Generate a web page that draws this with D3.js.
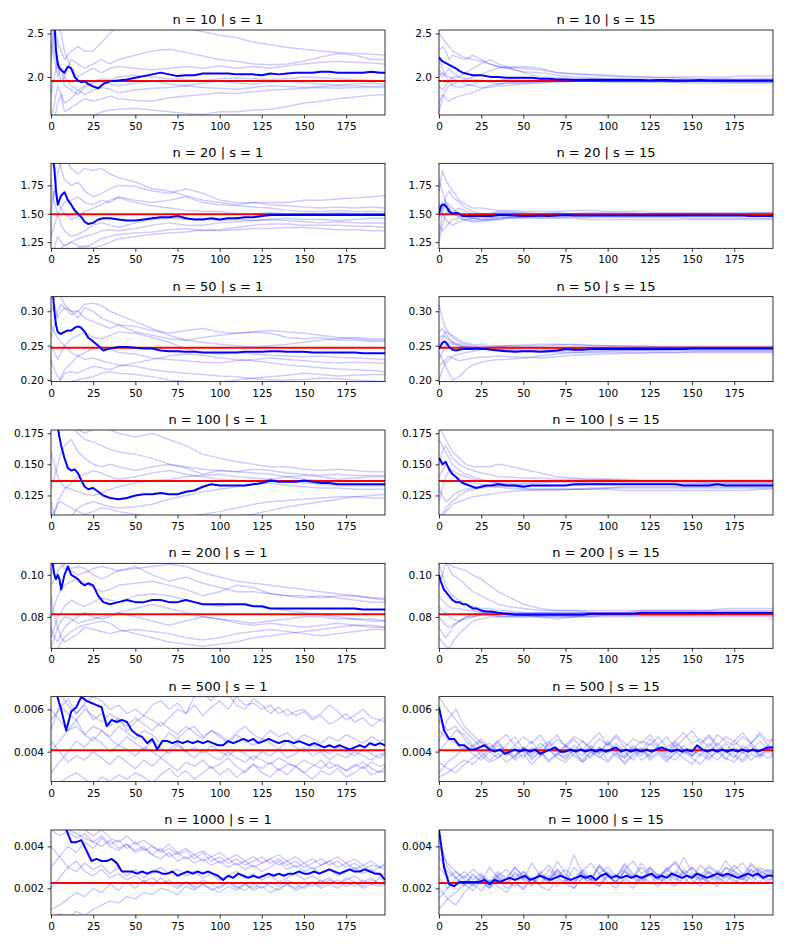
<!DOCTYPE html>
<html>
<head>
<meta charset="utf-8">
<script src="https://cdn.jsdelivr.net/npm/d3@7"></script>
<style>
  body { margin: 0; background: #fff; }
  text { font-family: "DejaVu Sans", sans-serif; }
</style>
</head>
<body>
<script>
// panel grid: rows are n, columns are s
const nValues = [10, 20, 50, 100, 200, 500, 1000];
const sValues = [1, 15];

// values are stored per row in a display unit:
// rows n=10,20 as is, rows n=50..200 in 1e-3, rows n=500,1000 in 1e-4
const trueValues = [1.954, 1.495, 247, 136.6, 81.2, 40.6, 22.5];
const yDomains = [[1.563, 2.540], [1.196, 1.944], [197.7, 321.2], [109.3, 177.6], [65.0, 105.5], [25.8, 66.0], [7.3, 47.8]];
const yTickValues = [[2.0, 2.5], [1.25, 1.5, 1.75], [200, 250, 300], [125, 150, 175], [80, 100], [40, 60], [20, 40]];
const yTickLabels = [["2.0", "2.5"], ["1.25", "1.50", "1.75"], ["0.20", "0.25", "0.30"], ["0.125", "0.150", "0.175"], ["0.08", "0.10"], ["0.004", "0.006"], ["0.002", "0.004"]];
const xDomain = [0, 198];
const xTicks = [0, 25, 50, 75, 100, 125, 150, 175];

const smoothBoldIdx = [0,1,2,3,4,5,6, 8,10,12,14,16,18,20,22, 25,28,31,35,40,45,50,55,60,65,70,75,80,
  85,90,95,100,105,110,115,120,125,130, 135,140,145,150,155,160,165,170,175,180, 185,190,195,198];
const smoothFaintIdx = [0,2,4,6,8,12,16,20,25,30, 35,40,50,60,70,80,90,100,110,120, 130,140,150,160,170,180,190,198];
const noisyBoldIdx = [0,3,6,9,12,15,18,21,24,27, 30,33,36,39,42,45,48,51,54,57, 60,63,66,69,72,75,78,81,84,87,
  90,93,96,99,102,105,108,111,114,117, 120,123,126,129,132,135,138,141,144,147,
  150,153,156,159,162,165,168,171,174,177, 180,183,186,189,192,195,198];
const noisyFaintIdx = [0,5,10,15,20,25,30,35,40,45, 50,55,60,65,70,75,80,85,90,95,
  100,105,110,115,120,125,130,135,140,145, 150,155,160,165,170,175,180,185,190,195, 198];

// ---- n = 10 ----
const boldN10S1 = [2.9,2.8,2.6,2.3,2.15,2.1,2.08, 2.05,2.12,2.1,2.0,1.96,1.94,1.95,1.92,
  1.89,1.87,1.92,1.95,1.96,1.97,1.99,2.01,2.03,2.05,2.03,2.01,2.02,
  2.02,2.04,2.04,2.04,2.04,2.03,2.03,2.03,2.02,2.04, 2.03,2.04,2.05,2.05,2.05,2.06,2.06,2.05,2.05,2.05, 2.05,2.06,2.05,2.05];
const faintN10S1 = [
  [2.2,2.6,2.4,2.3,2.2,2.3,2.35,2.3,2.3,2.4, 2.5,2.6,2.7,2.65,2.6,2.56,2.52,2.48,2.45,2.4, 2.37,2.34,2.32,2.3,2.28,2.27,2.26,2.25],
  [1.8,2.0,2.2,2.1,2.0,2.2,2.15,2.1,2.15,2.2, 2.15,2.2,2.25,2.3,2.32,2.28,2.24,2.2,2.18,2.15, 2.14,2.15,2.18,2.23,2.27,2.25,2.2,2.2],
  [3.0,2.8,2.6,2.5,2.3,2.1,2.0,2.05,2.1,2.05, 2.1,2.12,2.1,2.08,2.1,2.12,2.1,2.13,2.1,2.12, 2.1,2.13,2.15,2.17,2.18,2.17,2.16,2.15],
  [1.5,1.7,1.9,1.8,1.7,1.75,1.85,1.9,1.95,1.98, 1.97,2.0,2.02,2.0,1.98,1.97,1.96,1.98,1.99,1.98, 1.97,1.98,2.0,1.99,1.98,1.97,1.96,1.95],
  [2.4,2.2,2.0,2.1,1.9,1.85,1.8,1.88,1.93,1.95, 1.92,1.9,1.93,1.95,1.92,1.9,1.93,1.95,1.93,1.92, 1.94,1.95,1.93,1.92,1.91,1.92,1.93,1.92],
  [1.4,1.5,1.7,1.8,1.6,1.65,1.7,1.75,1.72,1.75, 1.78,1.75,1.73,1.72,1.76,1.78,1.8,1.82,1.81,1.83, 1.85,1.86,1.87,1.88,1.87,1.88,1.88,1.88],
  [1.3,1.4,1.5,1.45,1.5,1.55,1.52,1.5,1.55,1.6, 1.62,1.63,1.64,1.62,1.6,1.58,1.57,1.6,1.6,1.62, 1.63,1.66,1.7,1.72,1.75,1.77,1.79,1.8],
  [2.6,2.3,2.1,1.95,2.0,1.9,1.85,1.8,1.85,1.88, 1.86,1.82,1.85,1.87,1.88,1.9,1.88,1.87,1.86,1.88, 1.9,1.89,1.88,1.89,1.9,1.9,1.89,1.9]
];
const boldN10S15 = [2.23,2.2,2.18,2.17,2.16,2.15,2.14, 2.12,2.1,2.07,2.05,2.04,2.03,2.02,2.02,
  2.02,2.01,2.0,2.0,1.99,1.99,1.99,1.99,1.98,1.98,1.97,1.97,1.965,
  1.965,1.965,1.965,1.965,1.965,1.965,1.965,1.965,1.96,1.965, 1.965,1.96,1.96,1.96,1.965,1.96,1.96,1.96,1.96,1.96, 1.96,1.96,1.96,1.96];
const faintN10S15 = [
  [2.5,2.45,2.4,2.35,2.3,2.25,2.22,2.2,2.18,2.15, 2.12,2.1,2.06,2.05,2.02,2.0,1.99,1.98,1.98,1.97, 1.97,1.97,1.97,1.96,1.96,1.96,1.96,1.96],
  [2.3,2.35,2.3,2.2,2.25,2.22,2.2,2.25,2.2,2.15, 2.12,2.1,2.12,2.1,2.05,2.03,2.02,2.01,2.0,2.0, 1.99,1.99,1.98,1.98,1.98,1.98,1.98,1.98],
  [1.6,1.75,1.85,1.9,1.92,1.95,1.98,2.0,2.03,2.07, 2.1,2.12,2.1,2.08,2.05,2.04,2.03,2.02,2.01,2.0, 2.0,2.0,2.0,2.0,2.0,2.01,2.01,2.01],
  [1.7,1.8,1.75,1.72,1.75,1.78,1.8,1.82,1.86,1.9, 1.92,1.93,1.94,1.95,1.95,1.96,1.96,1.95,1.95,1.95, 1.95,1.94,1.95,1.95,1.94,1.94,1.94,1.94],
  [2.0,2.05,2.02,2.0,1.98,1.95,1.92,1.9,1.88,1.88, 1.9,1.9,1.92,1.93,1.94,1.95,1.96,1.96,1.96,1.95, 1.95,1.95,1.95,1.95,1.95,1.95,1.95,1.95],
  [2.2,2.1,2.0,1.95,1.9,1.88,1.9,1.92,1.95,1.94, 1.92,1.93,1.93,1.94,1.95,1.95,1.95,1.94,1.94,1.94, 1.94,1.94,1.93,1.93,1.93,1.93,1.93,1.93],
  [1.9,1.85,1.9,1.95,2.0,2.0,2.05,2.1,2.15,2.2, 2.15,2.12,2.05,2.0,1.99,1.98,1.98,1.97,1.97,1.97, 1.97,1.96,1.96,1.96,1.96,1.96,1.97,1.97],
  [2.1,2.0,2.05,2.1,2.05,2.0,1.98,1.97,1.96,1.95, 1.96,1.97,1.98,1.98,1.97,1.97,1.98,1.98,1.97,1.97, 1.96,1.96,1.96,1.97,1.97,1.96,1.96,1.96]
];

// ---- n = 20 ----
const boldN20S1 = [2.2,2.0,1.9,1.7,1.58,1.62,1.66, 1.69,1.62,1.58,1.53,1.5,1.47,1.43,1.41,
  1.42,1.45,1.46,1.46,1.45,1.44,1.44,1.45,1.46,1.47,1.47,1.48,1.46,
  1.45,1.45,1.46,1.45,1.46,1.46,1.47,1.47,1.48,1.49, 1.49,1.49,1.49,1.49,1.49,1.49,1.49,1.49,1.49,1.49, 1.49,1.49,1.49,1.49];
const faintN20S1 = [
  [1.5,1.7,1.85,1.95,2.0,1.9,1.85,1.9,1.88,1.9, 1.85,1.82,1.78,1.72,1.7,1.66,1.62,1.6,1.58,1.6, 1.6,1.6,1.62,1.62,1.63,1.64,1.65,1.66],
  [2.2,2.1,2.0,1.9,1.8,1.75,1.78,1.7,1.65,1.68, 1.72,1.75,1.74,1.7,1.68,1.72,1.68,1.62,1.6,1.6, 1.58,1.57,1.56,1.55,1.56,1.55,1.56,1.55],
  [1.3,1.4,1.5,1.55,1.6,1.62,1.65,1.6,1.58,1.62, 1.6,1.65,1.62,1.6,1.62,1.65,1.6,1.58,1.57,1.56, 1.55,1.53,1.52,1.52,1.53,1.52,1.52,1.52],
  [1.8,1.6,1.5,1.4,1.35,1.3,1.32,1.35,1.4,1.42, 1.4,1.38,1.42,1.45,1.46,1.45,1.46,1.44,1.45,1.44, 1.45,1.46,1.45,1.45,1.44,1.45,1.46,1.46],
  [1.0,1.2,1.3,1.25,1.22,1.25,1.28,1.3,1.32,1.35, 1.36,1.35,1.37,1.4,1.42,1.4,1.4,1.42,1.43,1.44, 1.45,1.44,1.43,1.42,1.43,1.42,1.42,1.42],
  [1.2,1.1,1.15,1.2,1.22,1.25,1.22,1.2,1.24,1.28, 1.3,1.32,1.33,1.34,1.36,1.37,1.35,1.36,1.38,1.4, 1.41,1.41,1.4,1.4,1.4,1.39,1.39,1.38],
  [1.1,1.0,1.05,1.1,1.15,1.18,1.2,1.22,1.2,1.22, 1.25,1.28,1.3,1.32,1.33,1.34,1.36,1.35,1.36,1.37, 1.37,1.38,1.38,1.37,1.36,1.36,1.35,1.35],
  [1.6,1.7,1.6,1.55,1.5,1.45,1.48,1.52,1.55,1.58, 1.62,1.64,1.6,1.57,1.55,1.53,1.52,1.52,1.5,1.5, 1.51,1.5,1.5,1.5,1.51,1.5,1.5,1.5]
];
const boldN20S15 = [1.5,1.56,1.58,1.58,1.57,1.55,1.52, 1.5,1.51,1.5,1.48,1.48,1.48,1.48,1.48,
  1.48,1.48,1.48,1.49,1.49,1.485,1.48,1.48,1.485,1.48,1.485,1.49,1.485,
  1.485,1.485,1.485,1.485,1.485,1.485,1.485,1.485,1.485,1.485, 1.485,1.485,1.485,1.485,1.485,1.485,1.485,1.485,1.485,1.485, 1.48,1.48,1.48,1.48];
const faintN20S15 = [
  [1.7,1.88,1.8,1.75,1.7,1.62,1.58,1.55,1.55,1.54, 1.53,1.53,1.52,1.52,1.52,1.53,1.53,1.52,1.52,1.52, 1.51,1.51,1.51,1.51,1.51,1.51,1.51,1.51],
  [1.3,1.5,1.65,1.7,1.65,1.6,1.55,1.52,1.5,1.5, 1.51,1.51,1.5,1.5,1.5,1.5,1.5,1.5,1.5,1.49, 1.49,1.49,1.49,1.49,1.49,1.49,1.49,1.49],
  [1.6,1.5,1.45,1.42,1.4,1.43,1.45,1.46,1.47,1.47, 1.48,1.48,1.48,1.48,1.48,1.48,1.48,1.48,1.48,1.48, 1.48,1.48,1.48,1.48,1.48,1.48,1.48,1.48],
  [1.4,1.35,1.38,1.42,1.45,1.46,1.44,1.43,1.43,1.44, 1.45,1.46,1.47,1.47,1.47,1.47,1.47,1.47,1.47,1.47, 1.47,1.47,1.46,1.46,1.46,1.46,1.46,1.46],
  [1.25,1.4,1.5,1.55,1.5,1.47,1.45,1.44,1.44,1.45, 1.45,1.46,1.46,1.46,1.46,1.46,1.45,1.45,1.45,1.45, 1.45,1.45,1.45,1.45,1.45,1.45,1.45,1.45],
  [1.55,1.6,1.55,1.5,1.52,1.55,1.52,1.5,1.5,1.5, 1.52,1.52,1.51,1.5,1.51,1.5,1.5,1.5,1.5,1.5, 1.5,1.5,1.5,1.5,1.5,1.5,1.5,1.5],
  [1.8,1.7,1.6,1.55,1.5,1.48,1.47,1.46,1.45,1.46, 1.47,1.47,1.47,1.48,1.49,1.49,1.49,1.49,1.5,1.5, 1.5,1.5,1.5,1.5,1.5,1.5,1.51,1.51],
  [1.45,1.55,1.6,1.58,1.55,1.5,1.48,1.46,1.45,1.45, 1.46,1.47,1.48,1.49,1.5,1.5,1.51,1.51,1.51,1.5, 1.5,1.5,1.5,1.5,1.49,1.49,1.49,1.49]
];

// ---- n = 50 (x1e-3) ----
const boldN50S1 = [340,330,300,280,270,268,267, 270,272,272,276,278,276,270,262,
  256,250,243,246,248,248,247,246,246,243,242,242,241,
  241,240,240,240,240,240,241,241,241,242, 242,241,241,241,240,240,240,240,240,240, 239,239,239,239];
const faintN50S1 = [
  [320,330,340,320,310,300,290,305,300,290, 285,280,278,272,268,272,275,270,268,270, 272,270,268,265,262,260,258,258],
  [300,310,290,300,305,300,300,290,285,280, 275,280,270,265,260,258,262,265,268,270, 268,262,260,262,258,258,256,256],
  [260,280,300,310,305,295,300,310,312,308, 300,295,285,275,265,258,255,252,250,248, 250,252,255,258,260,262,260,260],
  [250,240,230,240,250,260,265,270,262,260, 265,270,268,262,255,245,240,238,240,238, 236,235,234,235,233,232,231,230],
  [200,190,195,205,215,225,235,240,245,248, 245,240,238,232,230,228,226,225,228,230, 232,230,228,226,225,226,225,224],
  [230,215,205,200,210,212,210,215,220,218, 215,220,225,230,235,238,236,232,230,228, 225,222,220,218,216,215,214,212],
  [180,190,185,192,195,198,200,203,205,210, 212,210,208,205,200,198,195,197,200,203, 205,207,210,208,206,207,208,208],
  [280,270,260,255,250,240,235,230,232,228, 225,222,220,215,212,210,208,206,205,202, 200,200,201,203,202,200,199,198]
];
const boldN50S15 = [245,250,254,256,255,252,248, 244,243,244,245,245,245,245,246,
  245,245,244,243,242,241,242,242,241,242,243,245,244,
  244,245,245,245,245,245,245,245,245,245, 245,245,245,246,246,246,246,246,246,246, 246,246,246,246];
const faintN50S15 = [
  [310,290,275,268,265,258,254,252,251,250, 250,250,249,250,251,252,251,250,250,249, 249,249,249,249,249,249,249,249],
  [200,215,225,230,235,238,240,242,244,246, 248,248,247,246,245,246,247,247,247,247, 247,247,246,246,246,246,246,246],
  [270,275,268,260,255,250,248,246,245,244, 244,245,245,244,244,245,245,246,246,246, 246,246,246,246,247,247,247,247],
  [240,230,220,210,200,205,215,222,226,228, 230,230,232,235,238,240,241,242,243,243, 243,244,244,244,244,244,244,244],
  [260,265,262,258,255,252,250,248,246,245, 244,244,243,242,242,243,243,243,243,243, 243,243,243,243,243,243,243,243],
  [230,240,250,255,252,250,248,247,246,245, 244,243,242,241,240,240,240,240,240,240, 240,240,240,240,240,240,240,240],
  [250,260,270,268,262,255,252,250,248,248, 249,250,251,252,252,251,250,250,249,249, 248,248,248,248,248,248,248,248],
  [220,225,230,235,232,228,230,232,233,234, 235,234,233,232,234,236,237,238,239,239, 240,240,241,241,241,241,241,241]
];

// ---- n = 100 (x1e-3) ----
const boldN100S1 = [230,210,195,185,180,172,165, 155,147,145,146,143,137,132,130,
  131,128,125,123,122,123,125,126,126,127,126,126,128,
  129,132,134,133,133,133,133,134,135,137, 136,136,136,137,136,135,135,134,134,134, 134,134,134,134];
const faintN100S1 = [
  [200,190,185,180,178,180,178,175,178,180, 178,175,172,175,170,165,158,155,152,150, 148,148,146,145,146,145,144,144],
  [250,220,200,190,185,180,175,170,168,165, 162,160,158,155,150,148,146,145,144,143, 142,140,141,140,138,139,140,140],
  [130,140,150,160,165,170,160,155,150,148, 150,148,145,148,150,147,142,145,144,146, 145,143,142,141,142,141,141,141],
  [100,110,120,125,130,135,140,142,145,143, 140,138,140,143,145,142,140,138,137,136, 138,140,138,137,136,136,137,137],
  [120,110,105,100,102,108,115,118,120,118, 116,115,116,118,122,125,128,130,132,134, 135,133,132,131,131,130,130,130],
  [110,112,118,120,118,115,112,110,112,115, 114,112,110,108,106,107,110,112,115,118, 120,121,122,123,124,124,123,123],
  [90,95,100,102,100,98,100,102,103,104, 103,102,100,98,96,98,102,106,108,110, 113,116,118,120,122,124,125,126],
  [160,150,140,135,132,130,128,126,125,127, 130,132,135,137,138,140,141,142,140,139, 138,136,135,134,133,133,133,133]
];
const boldN100S15 = [155,153,150,151,152,149,146, 142,140,137,135,134,133,132,131,
  132,133,133,134,133,133,132,133,133,133,133,133,134,
  134,134,134,134,134,134,134,134,134,134, 134,134,133,133,133,133,134,133,133,133, 133,133,133,133];
const faintN100S15 = [
  [180,175,170,165,160,155,150,148,148,148, 150,149,146,143,140,139,138,138,138,137, 137,137,137,137,137,137,137,137],
  [150,160,165,160,155,150,147,145,143,142, 140,140,139,139,138,138,138,138,137,137, 137,137,137,137,137,137,137,137],
  [120,130,140,145,142,138,136,135,134,133, 132,133,134,135,136,136,136,136,136,136, 136,136,136,135,135,135,135,135],
  [105,110,115,118,120,125,128,130,131,132, 132,131,130,129,129,130,130,131,131,131, 131,131,131,131,131,131,131,131],
  [140,145,150,148,145,142,140,138,137,136, 135,134,133,133,133,133,134,134,134,134, 134,134,134,134,134,134,134,134],
  [130,125,120,122,125,128,130,131,132,133, 134,135,135,136,136,136,135,135,135,135, 135,135,135,135,135,135,135,135],
  [170,165,160,155,150,145,142,140,138,136, 135,133,131,130,130,130,131,131,132,132, 132,132,132,132,132,132,132,132],
  [110,108,112,115,118,120,122,124,125,126, 127,128,129,130,130,130,130,130,129,129, 129,129,129,129,129,129,130,130]
];

// ---- n = 200 (x1e-3) ----
const boldN200S1 = [110,105,100,98,100,98,93, 100,104,100,99,98,96,95,96,
  95,90,87,86,87,88,87,87,88,88,87,87,88,
  87,86,86,86,86,86,86,85,85,84, 84,84,84,84,84,84,84,84,84,84, 83.5,83.5,83.5,83.5];
const faintN200S1 = [
  [100,105,108,106,103,102,100,101,103,104, 103,102,103,104,105,104,101,99,97,96, 95,94,93,92,91,90,89,88],
  [95,98,102,104,105,103,104,103,100,98, 100,102,104,100,97,99,96,94,92,92, 91,90,90,89,90,90,89,89],
  [80,85,90,93,95,97,98,96,94,92, 93,95,96,97,95,93,90,92,95,94, 91,90,89,90,89,88,87,87],
  [70,75,80,82,85,88,86,85,87,89, 88,87,90,91,90,88,86,85,86,85, 84,83,82,81,80,79,79,78],
  [75,70,68,72,75,78,80,82,80,79, 80,82,84,86,84,82,80,79,78,77, 78,79,80,80,79,79,78,78],
  [65,70,75,78,80,79,77,78,79,80, 81,82,80,78,76,78,80,79,77,76, 77,76,75,76,77,76,75,75],
  [90,80,75,70,68,70,72,75,74,73, 72,73,74,73,72,70,69,70,72,73, 74,73,72,71,72,73,74,74],
  [60,62,65,68,70,73,75,76,77,78, 77,74,72,70,68,67,66,67,68,70, 71,72,73,74,75,76,76,75]
];
const boldN200S15 = [100,97,95,93,92,91,90, 88,87,87,86,86,85,84,84,
  83,82.5,82.5,82,81.5,81,81,81,81,81,81,81,81,
  81,81.5,81.5,81.5,81.5,81.5,81.5,82,82,82, 82,82,82,82,82,82,82,82,82,82, 82,82,82,82];
const faintN200S15 = [
  [110,108,106,105,104,103,102,100,98,95, 92,90,86,84,83,83,83,83,83,83, 83,83,83,83,84,84,84,84],
  [95,100,106,103,100,98,95,92,90,88, 86,85,84,83,83,83,82,82,82,83, 83,83,83,83,83,83,83,83],
  [90,88,86,85,84,84,83,83,82,82, 82,81,81,81,81,81,81,81,81,81, 81,81,81,81,81,81,81,81],
  [80,78,76,75,76,78,80,81,82,82, 82,82,81,80,80,80,80,81,81,81, 81,81,81,82,82,82,82,82],
  [70,68,66,65,68,72,75,78,79,80, 80,80,80,80,80,80,81,81,81,81, 81,81,81,81,81,81,81,81],
  [85,83,82,80,79,78,79,80,81,81, 80,80,80,80,79,80,80,80,80,80, 80,80,80,80,80,80,80,80],
  [105,100,95,92,90,88,86,85,84,84, 83,83,82,82,82,82,82,82,82,82, 82,82,82,82,82,82,82,82],
  [75,72,70,72,75,78,80,80,81,81, 81,82,82,82,82,82,82,82,82,82, 82,82,82,82,82,82,82,82]
];

// ---- n = 500 (x1e-4) ----
const boldN500S1 = [75,68,60,50,59,61,66,64,63,62, 61,52,55,54,55,54,50,48,47,44,
  46,41,45,45,44,45,44,45,44,45, 44,45,44,43,43,45,44,45,46,45,
  46,44,45,46,45,44,45,45,44,45, 44,43,44,43,42,43,42,43,42,41, 42,43,42,44,43,44,43];
const faintN500S1 = [
  [70,68,62,58,63,66,64,60,62,58, 60,57,62,64,60,63,58,66,68,64, 70,67,62,60,65,62,58,61,57,59, 60,56,58,62,59,55,57,60,56,55, 56],
  [55,60,65,58,62,55,58,52,56,50, 54,57,55,52,56,60,58,62,57,61, 64,60,66,62,63,60,62,58,60,57, 59,55,57,53,55,58,54,56,52,55, 54],
  [40,45,50,55,48,52,50,47,52,49, 46,50,48,44,49,46,50,52,47,50, 48,45,49,52,48,46,50,47,49,45, 48,46,44,47,45,48,46,44,47,45, 46],
  [30,35,40,45,42,47,44,40,43,41, 38,42,40,37,41,44,40,42,39,43, 40,38,41,39,36,40,38,41,37,39, 42,38,40,36,39,37,40,38,36,39, 38],
  [45,40,35,38,36,40,37,34,38,35, 32,36,33,37,34,31,35,33,36,32, 34,37,33,30,34,32,35,31,34,33, 30,33,36,32,34,31,33,35,32,30, 33],
  [20,25,28,30,27,24,28,26,29,27, 30,28,25,29,32,28,31,27,30,33, 29,32,28,31,34,30,28,32,29,33, 30,27,31,29,32,28,30,33,29,31, 30],
  [60,55,50,52,48,45,50,46,43,47, 44,41,45,42,39,43,40,37,41,38, 36,40,37,35,38,36,34,37,35,33, 36,34,32,35,33,31,34,32,35,33, 34],
  [50,62,58,55,60,57,54,58,55,52, 56,53,50,54,51,48,52,49,46,50, 47,44,48,45,43,46,44,41,45,42, 40,43,41,39,42,40,38,41,39,37, 40]
];
const boldN500S15 = [61,50,46,46,43,43,41,41,42,43, 41,40,41,39,40,41,40,41,40,41,
  39,40,41,42,40,40,41,40,41,40, 41,40,41,40,41,42,40,41,40,41,
  40,41,40,41,42,41,40,41,40,41, 40,43,41,40,41,40,41,40,41,40, 41,40,41,40,41,42,42];
const faintN500S15 = [
  [66,60,55,50,46,42,44,40,43,47, 41,45,39,44,48,42,46,41,45,49, 43,47,42,46,44,48,43,47,42,46, 50,44,48,43,47,45,49,44,48,43, 46],
  [55,50,52,46,42,45,40,37,41,38, 42,36,40,35,39,37,41,35,38,42, 36,40,34,38,41,36,39,35,40,37, 34,39,36,41,37,35,40,36,39,37, 38],
  [30,35,38,42,39,36,40,43,38,41, 37,42,38,44,40,36,41,38,43,39, 45,40,37,42,38,44,41,37,43,39, 41,38,44,40,36,42,39,43,38,41, 40],
  [45,55,60,52,48,44,41,45,39,43, 40,38,42,45,41,38,43,40,37,42, 39,44,40,36,41,38,43,40,45,41, 38,42,39,44,40,37,43,40,45,41, 42],
  [35,32,30,34,37,40,36,39,35,38, 42,37,40,36,39,43,38,35,40,37, 41,38,35,39,42,37,40,36,39,43, 38,41,37,40,44,39,36,41,38,42, 39],
  [40,45,50,48,43,46,42,45,48,43, 47,44,48,42,46,43,47,45,41,46, 43,48,44,41,45,43,47,42,45,49, 44,46,42,48,45,43,47,44,49,45, 46],
  [28,30,33,36,34,38,35,37,40,36, 39,34,38,41,37,35,39,36,40,38, 35,39,37,41,36,39,42,38,36,40, 37,34,39,36,40,38,35,39,37,40, 38],
  [50,46,44,40,43,38,41,44,40,37, 42,39,44,41,38,43,40,45,42,39, 44,41,38,43,40,46,42,39,44,41, 38,43,47,42,40,45,41,44,40,43, 42]
];

// ---- n = 1000 (x1e-4) ----
const boldN1000S1 = [55,52,50,48,42,42,43,38,33,34, 33,33,34,32,28,28,28,27,28,27,
  28,28,27,27,28,26,27,28,27,28, 27,28,27,26,24,26,25,27,26,25,
  26,25,26,27,26,27,26,27,27,28, 27,27,28,27,28,29,28,27,28,29, 28,28,29,28,27,27,24];
const faintN1000S1 = [
  [55,50,48,46,44,42,40,43,39,41, 38,40,36,39,35,37,34,36,33,35, 32,34,31,33,30,32,34,31,33,30, 32,29,31,33,30,32,29,31,28,30, 29],
  [48,45,47,44,46,42,45,41,43,39, 42,38,40,37,39,36,38,34,37,33, 35,32,34,31,33,35,32,34,31,33, 30,32,34,31,33,30,32,29,31,30, 31],
  [30,35,40,37,42,39,44,40,38,41, 37,39,36,34,37,33,35,32,34,31, 33,30,32,29,31,28,30,33,29,31, 28,30,27,29,26,28,30,27,29,26, 27],
  [20,25,30,28,32,29,31,27,30,26, 29,25,28,30,27,29,26,28,25,27, 24,26,28,25,27,24,26,23,25,27, 24,26,23,25,22,24,26,23,25,22, 23],
  [10,12,15,18,16,20,18,22,19,23, 20,24,21,25,22,20,23,21,24,22, 20,23,21,19,22,20,23,21,24,22, 20,23,21,24,22,25,23,21,24,22, 23],
  [5,8,6,9,7,10,12,14,13,16, 15,18,17,20,19,17,21,19,22,20, 18,21,19,22,20,23,21,19,22,20, 23,21,24,22,20,23,21,24,22,25, 23],
  [40,35,30,33,28,26,29,25,27,24, 26,23,25,22,24,21,23,20,22,19, 21,23,20,22,19,21,18,20,22,19, 21,23,20,22,24,21,23,20,22,21, 22],
  [60,55,50,52,48,45,48,44,42,45, 41,43,40,38,41,37,39,36,38,35, 37,34,36,33,35,32,34,36,33,35, 32,34,31,33,35,32,34,31,33,30, 32]
];
const boldN1000S15 = [48,30,22,21,23,23,23,23,23,24, 22,24,23,24,25,24,25,26,24,25,
  26,25,24,25,26,25,24,25,26,25, 26,24,26,27,25,26,25,26,25,26,
  25,26,27,25,26,25,27,26,25,26, 25,27,26,25,26,27,26,27,26,25, 26,27,26,27,25,26,26];
const faintN1000S15 = [
  [45,30,25,28,24,27,23,26,29,25, 28,24,27,31,26,29,25,28,32,27, 30,26,29,33,27,30,26,29,32,27, 30,26,31,28,25,29,32,27,30,28, 29],
  [20,15,12,18,22,19,24,21,18,23, 20,25,21,19,24,22,20,25,22,27, 23,20,25,22,26,23,21,26,22,28, 24,21,26,23,27,24,22,26,23,27, 25],
  [35,28,25,22,26,23,20,25,22,27, 24,21,26,23,28,24,22,27,24,21, 26,23,28,25,22,27,24,29,25,22, 27,24,28,25,23,27,24,29,26,23, 25],
  [10,15,18,22,19,24,20,26,23,21, 28,24,22,29,25,23,30,26,24,31, 27,25,32,27,24,30,26,28,33,27, 25,31,27,24,30,28,26,32,28,26, 28],
  [30,25,28,24,21,26,22,27,24,30, 25,22,28,24,33,27,23,29,25,22, 28,25,31,26,23,29,25,22,28,26, 30,25,23,28,26,31,27,24,29,26, 27],
  [25,20,23,26,22,25,21,24,20,23, 19,25,22,26,21,24,20,25,23,21, 26,22,24,20,25,22,27,23,21,25, 22,26,23,21,26,23,25,22,27,24, 25],
  [15,20,25,21,27,23,30,25,22,28, 24,32,26,23,29,25,36,27,24,30, 26,23,29,25,32,27,24,30,26,35, 28,24,30,27,33,28,25,31,27,29, 28],
  [40,32,28,25,29,26,23,28,25,30, 26,22,27,24,29,25,22,28,24,31, 26,23,28,25,30,26,22,27,24,29, 26,23,28,25,30,26,24,29,25,28, 27]
];

const boldRuns = [
  [boldN10S1, boldN10S15], [boldN20S1, boldN20S15], [boldN50S1, boldN50S15], [boldN100S1, boldN100S15],
  [boldN200S1, boldN200S15], [boldN500S1, boldN500S15], [boldN1000S1, boldN1000S15]
];
const faintRuns = [
  [faintN10S1, faintN10S15], [faintN20S1, faintN20S15], [faintN50S1, faintN50S15], [faintN100S1, faintN100S15],
  [faintN200S1, faintN200S15], [faintN500S1, faintN500S15], [faintN1000S1, faintN1000S15]
];

const width = 789, height = 947;
const panelW = 334, panelH = 85;
const panelLeft = [51, 439];
const firstTop = 30, rowGap = 133.33;

const svg = d3.select("body").append("svg")
    .attr("width", width)
    .attr("height", height);

nValues.forEach((n, r) => {
    sValues.forEach((s, c) => {
        //the last two rows were read more densely since their runs are very noisy
        const noisy = r >= 5;
        const boldIdx = noisy ? noisyBoldIdx : smoothBoldIdx;
        const faintIdx = noisy ? noisyFaintIdx : smoothFaintIdx;

        const x = d3.scaleLinear().domain(xDomain).range([0, panelW]);
        const y = d3.scaleLinear().domain(yDomains[r]).range([panelH, 0]);

        const g = svg.append("g")
            .attr("transform", `translate(${panelLeft[c]}, ${firstTop + r * rowGap})`);

        const clipId = `clip-${r}-${c}`;
        g.append("clipPath").attr("id", clipId)
            .append("rect").attr("width", panelW).attr("height", panelH);

        const plot = g.append("g").attr("clip-path", `url(#${clipId})`);

        const lineFor = (idx) => d3.line()
            .x((d, i) => x(idx[i]))
            .y((d) => y(d));

        //faint individual runs
        plot.selectAll("path.faint")
            .data(faintRuns[r][c]).enter()
            .append("path")
            .attr("class", "faint")
            .attr("d", (d) => lineFor(faintIdx)(d.slice(0, faintIdx.length)))
            .attr("fill", "none")
            .attr("stroke", "#0000ff")
            .attr("stroke-opacity", 0.2)
            .attr("stroke-width", 1.5)
            .attr("stroke-linejoin", "round");

        //true value
        plot.append("line")
            .attr("x1", 0).attr("x2", panelW)
            .attr("y1", y(trueValues[r])).attr("y2", y(trueValues[r]))
            .attr("stroke", "#ff0000")
            .attr("stroke-width", 2);

        //highlighted run
        plot.append("path")
            .datum(boldRuns[r][c].slice(0, boldIdx.length))
            .attr("d", lineFor(boldIdx))
            .attr("fill", "none")
            .attr("stroke", "#0000ff")
            .attr("stroke-width", 2)
            .attr("stroke-linejoin", "round");

        //axes
        const xAxis = g.append("g")
            .attr("transform", `translate(0, ${panelH})`)
            .call(d3.axisBottom(x).tickValues(xTicks).tickSize(3.5).tickPadding(4).tickFormat(d3.format("d")));
        const yAxis = g.append("g")
            .call(d3.axisLeft(y).tickValues(yTickValues[r]).tickSize(3.5).tickPadding(3.5)
                .tickFormat((d, i) => yTickLabels[r][i]));
        [xAxis, yAxis].forEach((a) => {
            a.select(".domain").remove();
            a.attr("font-family", "DejaVu Sans").attr("font-size", 10.5);
            a.selectAll("line").attr("stroke", "#000").attr("stroke-width", 0.8);
            a.selectAll("text").attr("fill", "#000");
        });

        g.append("rect")
            .attr("width", panelW).attr("height", panelH)
            .attr("fill", "none")
            .attr("stroke", "#000")
            .attr("stroke-width", 0.8);

        g.append("text")
            .text(`n = ${n} | s = ${s}`)
            .attr("x", panelW / 2)
            .attr("y", -6)
            .attr("text-anchor", "middle")
            .attr("font-size", 13)
            .attr("fill", "#000");
    });
});
</script>
</body>
</html>
